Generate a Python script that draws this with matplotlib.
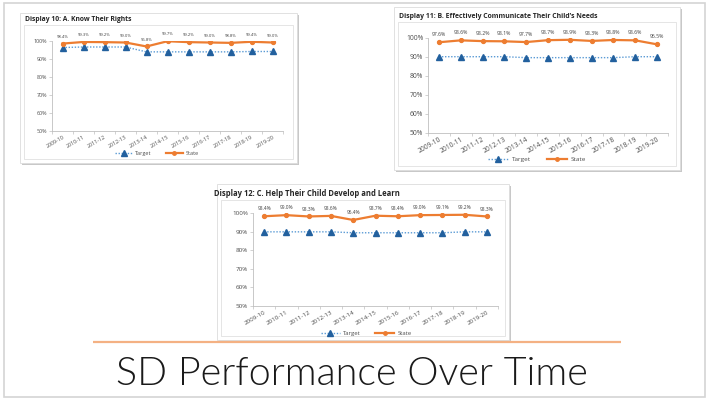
import matplotlib
matplotlib.use("Agg")
import matplotlib.pyplot as plt
from matplotlib.patches import Rectangle
from matplotlib.lines import Line2D

# ---- data ----
years = ["2009-10", "2010-11", "2011-12", "2012-13", "2013-14", "2014-15",
         "2015-16", "2016-17", "2017-18", "2018-19", "2019-20"]

target_rights = [96.2, 96.5, 96.5, 96.5, 93.8, 93.8, 93.8, 93.8, 93.8, 94.0, 94.0]
state_rights = [98.4, 99.3, 99.2, 99.0, 96.8, 99.7, 99.2, 99.0, 98.8, 99.4, 99.0]

target_needs = [90.0, 90.0, 90.0, 90.0, 89.5, 89.5, 89.5, 89.5, 89.5, 90.0, 90.0]
state_needs = [97.6, 98.6, 98.2, 98.1, 97.7, 98.7, 98.9, 98.3, 98.8, 98.6, 96.5]

target_learn = [90.0, 90.0, 90.0, 90.0, 89.5, 89.5, 89.5, 89.5, 89.5, 90.0, 90.0]
state_learn = [98.4, 99.0, 98.3, 98.6, 96.4, 98.7, 98.4, 99.0, 99.1, 99.2, 98.3]

y_ticks = [50, 60, 70, 80, 90, 100]

W, H = 707, 400
fig = plt.figure(figsize=(W / 100, H / 100), dpi=100)
fig.patch.set_facecolor("white")

bg = fig.add_axes([0, 0, 1, 1])
bg.set_xlim(0, W)
bg.set_ylim(H, 0)
bg.axis("off")

renderer = fig.canvas.get_renderer()


def fit_text(txt, width):
    bb = txt.get_window_extent(renderer)
    txt.set_fontsize(txt.get_fontsize() * width / bb.width)


# slide frame
bg.add_patch(Rectangle((4, 3), 701, 394, fill=False, ec="#d4d4d4", lw=1.2))

TARGET_LINE = "#5B9BD5"
TARGET_MARK = "#22609E"
STATE = "#ED7D31"
TXT = "#4d4d4d"


def draw_chart(box, plot, title, title_xy, title_w, target, state,
               tick_fs, label_fs, legend_xy, legend_fs):
    x0, y0, x1, y1 = box
    # drop shadow and card
    bg.add_patch(Rectangle((x0 + 2, y0 + 2), x1 - x0, y1 - y0,
                           fc="#c8c8c8", ec="none"))
    card = Rectangle((x0, y0), x1 - x0, y1 - y0, fc="white",
                     ec="#dcdcdc", lw=0.6)
    bg.add_patch(card)
    # inner chart-area frame
    bg.add_patch(Rectangle((x0 + 4, title_xy[1] + 4), x1 - x0 - 8,
                           y1 - title_xy[1] - 8, fill=False,
                           ec="#e0e0e0", lw=0.6))
    t = bg.text(title_xy[0], title_xy[1], title, fontsize=6,
                fontweight="bold", color="#262626", va="baseline",
                ha="left", family="Open Sans")
    fit_text(t, title_w)
    t.set_clip_path(card)

    px0, py0, px1, py1 = plot
    ax = fig.add_axes([px0 / W, 1 - py1 / H, (px1 - px0) / W,
                       (py1 - py0) / H])
    ax.patch.set_alpha(0)
    x = list(range(len(years)))
    ax.plot(x, target, linestyle=(0, (1, 1.2)), color=TARGET_LINE, lw=1.0,
            marker="^", ms=4, mfc=TARGET_MARK, mec=TARGET_MARK,
            label="Target", zorder=3)
    ax.plot(x, state, color=STATE, lw=1.6, marker="o", ms=2.8,
            mfc=STATE, mec=STATE, label="State", zorder=3)
    for xi, v in zip(x, state):
        ax.annotate(f"{v:.1f}%", (xi, v), xytext=(0, 3.5),
                    textcoords="offset points", ha="center", va="bottom",
                    fontsize=label_fs, color="#404040", family="Open Sans",
                    annotation_clip=False)
    ax.set_xlim(-0.5, len(years) - 0.5)
    ax.set_ylim(50, 100)
    ax.set_yticks(y_ticks)
    ax.set_yticklabels([f"{v}%" for v in y_ticks], fontsize=tick_fs,
                       color=TXT, family="Open Sans")
    ax.set_xticks(x)
    ax.set_xticklabels(years, rotation=30, ha="right",
                       rotation_mode="anchor", fontsize=tick_fs,
                       color=TXT, family="Open Sans")
    ax.set_xticks([i - 0.5 for i in range(len(years) + 1)], minor=True)
    ax.tick_params(axis="x", which="major", length=0, pad=2.5)
    ax.tick_params(axis="x", which="minor", length=2, width=0.5,
                   color="#bfbfbf")
    ax.tick_params(axis="y", length=2, width=0.5, color="#bfbfbf", pad=1.5)
    for s in ("top", "right"):
        ax.spines[s].set_visible(False)
    for s in ("left", "bottom"):
        ax.spines[s].set_color("#bfbfbf")
        ax.spines[s].set_linewidth(0.6)

    handles = [
        Line2D([], [], linestyle=(0, (1, 1.2)), color=TARGET_LINE, lw=1.0,
               marker="^", ms=4, mfc=TARGET_MARK, mec=TARGET_MARK),
        Line2D([], [], color=STATE, lw=1.6, marker="o", ms=2.5,
               mfc=STATE, mec=STATE),
    ]
    leg = ax.legend(handles, ["Target", "State"], loc="center",
                    bbox_to_anchor=(legend_xy[0] / W, 1 - legend_xy[1] / H),
                    bbox_transform=fig.transFigure, ncol=2, frameon=False,
                    fontsize=legend_fs, handlelength=3.2, columnspacing=2.5,
                    handletextpad=0.5, borderpad=0)
    for tx in leg.get_texts():
        tx.set_color(TXT)
        tx.set_family("Open Sans")
    return ax


draw_chart(box=(20, 13, 297, 163), plot=(52, 40.7, 283, 130.7),
           title="Display 10: A. Know Their Rights", title_xy=(25, 21),
           title_w=108, target=target_rights, state=state_rights,
           tick_fs=3.9, label_fs=3.1, legend_xy=(157, 153), legend_fs=4.0)

draw_chart(box=(394, 7, 680, 170), plot=(428, 37.7, 668, 132.7),
           title="Display 11: B. Effectively Communicate Their Child\u2019s Needs",
           title_xy=(399, 18), title_w=199, target=target_needs,
           state=state_needs, tick_fs=4.9, label_fs=3.7,
           legend_xy=(537, 159), legend_fs=4.6)

draw_chart(box=(217, 184, 509, 340), plot=(253, 213.3, 498, 306),
           title="Display 12: C. Help Their Child Develop and Learn",
           title_xy=(214, 196), title_w=184, target=target_learn,
           state=state_learn, tick_fs=4.5, label_fs=3.5,
           legend_xy=(366, 333), legend_fs=4.3)

# divider and slide title
bg.plot([93, 621], [341.5, 341.5], color="#F4B183", lw=1.6,
        solid_capstyle="butt")
main = bg.text(352, 385, "SD Performance Over Time", ha="center",
               va="baseline", fontsize=34, color="#1a1a1a", family="Lato",
               fontweight=300)
fit_text(main, 472)

fig.savefig("out.png", dpi=100, facecolor="white")
